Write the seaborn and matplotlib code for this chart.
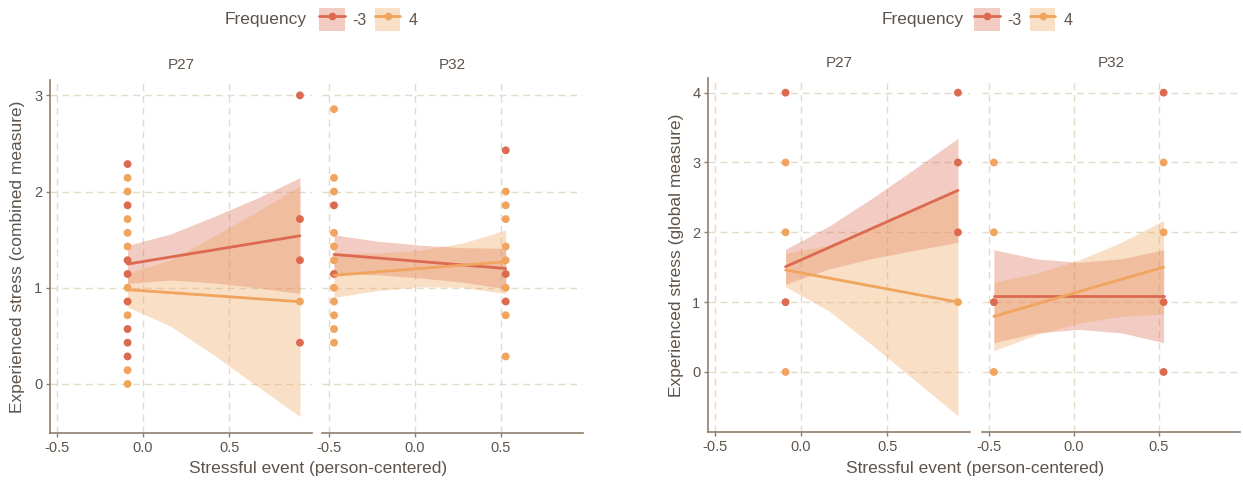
import pandas as pd
import matplotlib
matplotlib.use("Agg")
import matplotlib.pyplot as plt
import seaborn as sns
from matplotlib.lines import Line2D
from matplotlib.patches import Patch
from matplotlib.legend_handler import HandlerTuple

# x positions of the two measurement occasions (person-centered)
X_P27 = [-0.09, 0.91]
X_P32 = [-0.47, 0.53]

# grid on which model predictions / CI were read
GRID_P27 = [-0.09, 0.16, 0.41, 0.66, 0.91]
GRID_P32 = [-0.47, -0.22, 0.03, 0.28, 0.53]

FREQS = ["-3", "4"]

# ---- combined measure: raw points ----
comb_p27_neg3_a = [2.286, 1.857, 1.286, 1.143, 0.857, 0.571, 0.429, 0.286]
comb_p27_pos4_a = [2.143, 2.0, 1.714, 1.571, 1.429, 1.0, 0.714, 0.143, 0.0]
comb_p27_neg3_b = [3.0, 1.714, 1.286, 0.429]
comb_p27_pos4_b = [0.857]

comb_p32_neg3_a = [1.857, 1.143]
comb_p32_pos4_a = [2.857, 2.143, 2.0, 1.571, 1.429, 1.286, 1.0, 0.857, 0.714, 0.571, 0.429]
comb_p32_neg3_b = [2.429, 1.143, 0.857]
comb_p32_pos4_b = [2.0, 1.857, 1.714, 1.429, 1.286, 1.0, 0.714, 0.286]

# ---- combined measure: predictions ----
comb_p27_neg3_fit = [1.246, 1.32, 1.393, 1.467, 1.54]
comb_p27_neg3_lo = [1.045, 1.08, 1.05, 1.00, 0.94]
comb_p27_neg3_hi = [1.44, 1.56, 1.74, 1.93, 2.145]
comb_p27_pos4_fit = [0.98, 0.949, 0.918, 0.886, 0.855]
comb_p27_pos4_lo = [0.80, 0.60, 0.30, -0.02, -0.34]
comb_p27_pos4_hi = [1.15, 1.29, 1.535, 1.79, 2.055]

comb_p32_neg3_fit = [1.346, 1.31, 1.273, 1.237, 1.20]
comb_p32_neg3_lo = [1.146, 1.135, 1.103, 1.057, 0.99]
comb_p32_neg3_hi = [1.55, 1.485, 1.443, 1.417, 1.41]
comb_p32_pos4_fit = [1.13, 1.165, 1.20, 1.235, 1.27]
comb_p32_pos4_lo = [0.90, 0.97, 1.01, 1.005, 0.94]
comb_p32_pos4_hi = [1.36, 1.36, 1.39, 1.465, 1.60]

# ---- global measure: raw points ----
glob_p27_neg3_a = [4, 1]
glob_p27_pos4_a = [3, 2, 0]
glob_p27_neg3_b = [4, 3, 2]
glob_p27_pos4_b = [1]

glob_p32_neg3_a = [1]
glob_p32_pos4_a = [3, 2, 0]
glob_p32_neg3_b = [4, 1, 0]
glob_p32_pos4_b = [3, 2]

# ---- global measure: predictions ----
glob_p27_neg3_fit = [1.507, 1.78, 2.054, 2.327, 2.60]
glob_p27_neg3_lo = [1.257, 1.475, 1.623, 1.744, 1.855]
glob_p27_neg3_hi = [1.757, 2.085, 2.485, 2.91, 3.345]
glob_p27_pos4_fit = [1.46, 1.345, 1.23, 1.115, 1.0]
glob_p27_pos4_lo = [1.22, 0.876, 0.389, -0.118, -0.63]
glob_p27_pos4_hi = [1.70, 1.814, 2.071, 2.348, 2.63]

glob_p32_neg3_fit = [1.09, 1.09, 1.09, 1.09, 1.09]
glob_p32_neg3_lo = [0.42, 0.56, 0.61, 0.56, 0.42]
glob_p32_neg3_hi = [1.75, 1.62, 1.57, 1.62, 1.75]
glob_p32_pos4_fit = [0.795, 0.972, 1.149, 1.326, 1.50]
glob_p32_pos4_lo = [0.305, 0.532, 0.70, 0.796, 0.83]
glob_p32_pos4_hi = [1.285, 1.412, 1.60, 1.856, 2.17]

X_TICKS = [-0.5, 0.0, 0.5]
Y_TICKS_COMB = [0, 1, 2, 3]
Y_TICKS_GLOB = [0, 1, 2, 3, 4]

sns.set_theme(style="white")
plt.rcParams['font.family'] = ['Liberation Sans', 'DejaVu Sans']

TEXT = "#5E544B"
AXIS = "#8E7D6C"
GRID = "#E4DBC9"
PALETTE = {"-3": "#DB6A51", "4": "#F0A45E"}
BAND_ALPHA = 0.35

W, H = 1243, 483
fig = plt.figure(figsize=(W / 100, H / 100), dpi=100)


def px_axes(x0, x1, y0, y1):
    return fig.add_axes([x0 / W, 1 - y1 / H, (x1 - x0) / W, (y1 - y0) / H])


def points_df(xs, neg_a, pos_a, neg_b, pos_b):
    rows = []
    for v in neg_a:
        rows.append((xs[0], v, "-3"))
    for v in pos_a:
        rows.append((xs[0], v, "4"))
    for v in neg_b:
        rows.append((xs[1], v, "-3"))
    for v in pos_b:
        rows.append((xs[1], v, "4"))
    return pd.DataFrame(rows, columns=["x", "y", "freq"])


def fit_df(grid, neg, pos):
    parts = []
    for freq, (fit, lo, hi) in zip(FREQS, [neg, pos]):
        parts.append(pd.DataFrame({"x": grid, "fit": fit, "lo": lo, "hi": hi, "freq": freq}))
    return pd.concat(parts, ignore_index=True)


def draw_panel(ax, title, pts, fits, ylim, yticks, first):
    for freq in FREQS:
        d = fits[fits.freq == freq]
        ax.fill_between(d.x, d.lo, d.hi, color=PALETTE[freq], alpha=BAND_ALPHA, lw=0, zorder=2)
    sns.scatterplot(data=pts, x="x", y="y", hue="freq", palette=PALETTE, s=32,
                    edgecolor="none", legend=False, ax=ax, zorder=3)
    sns.lineplot(data=fits, x="x", y="fit", hue="freq", palette=PALETTE, lw=2,
                 legend=False, ax=ax, zorder=4)
    ax.set_xlim(-0.54, 0.98)
    ax.set_ylim(*ylim)
    ax.set_xticks(X_TICKS)
    ax.set_xticklabels(["-0.5", "0.0", "0.5"])
    ax.set_yticks(yticks)
    ax.set_xlabel("")
    ax.set_ylabel("")
    ax.grid(True, ls=(0, (5, 3.5)), color=GRID, lw=1)
    ax.set_axisbelow(True)
    ax.set_title(title, fontsize=11, color=TEXT, pad=8)
    for s in ["top", "right"]:
        ax.spines[s].set_visible(False)
    for s in ["left", "bottom"]:
        ax.spines[s].set_color(AXIS)
        ax.spines[s].set_linewidth(1.2)
    ax.tick_params(colors=AXIS, labelcolor=TEXT, length=3, width=1, labelsize=10.5,
                   bottom=True, left=True, pad=2.5)
    if not first:
        ax.spines["left"].set_visible(False)
        ax.tick_params(left=False, labelleft=False)


def draw_legend(title_x, key_x):
    fig.text(title_x / W, 1 - 19.5 / H, "Frequency", fontsize=12.5, color=TEXT,
             ha="left", va="center")
    handles = [(Patch(facecolor=PALETTE[f], alpha=BAND_ALPHA, lw=0),
                Line2D([], [], color=PALETTE[f], lw=2, marker="o", ms=4.5))
               for f in FREQS]
    fig.legend(handles, FREQS, handler_map={tuple: HandlerTuple(ndivide=1)},
               ncol=2, loc="center left", bbox_to_anchor=(key_x / W, 1 - 19.5 / H),
               frameon=False, fontsize=11.5, labelcolor=TEXT, handlelength=1.6,
               handleheight=1.9, handletextpad=0.5, columnspacing=0.5,
               borderpad=0, borderaxespad=0)


# ---------- left chart: combined measure ----------
ax1 = px_axes(50, 312, 80, 433)
ax2 = px_axes(322, 583, 80, 433)
draw_panel(ax1, "P27",
           points_df(X_P27, comb_p27_neg3_a, comb_p27_pos4_a, comb_p27_neg3_b, comb_p27_pos4_b),
           fit_df(GRID_P27, (comb_p27_neg3_fit, comb_p27_neg3_lo, comb_p27_neg3_hi),
                  (comb_p27_pos4_fit, comb_p27_pos4_lo, comb_p27_pos4_hi)),
           (-0.51, 3.16), Y_TICKS_COMB, True)
draw_panel(ax2, "P32",
           points_df(X_P32, comb_p32_neg3_a, comb_p32_pos4_a, comb_p32_neg3_b, comb_p32_pos4_b),
           fit_df(GRID_P32, (comb_p32_neg3_fit, comb_p32_neg3_lo, comb_p32_neg3_hi),
                  (comb_p32_pos4_fit, comb_p32_pos4_lo, comb_p32_pos4_hi)),
           (-0.51, 3.16), Y_TICKS_COMB, False)

# ---------- right chart: global measure ----------
ax3 = px_axes(708, 970, 78, 432)
ax4 = px_axes(982, 1240, 78, 432)
draw_panel(ax3, "P27",
           points_df(X_P27, glob_p27_neg3_a, glob_p27_pos4_a, glob_p27_neg3_b, glob_p27_pos4_b),
           fit_df(GRID_P27, (glob_p27_neg3_fit, glob_p27_neg3_lo, glob_p27_neg3_hi),
                  (glob_p27_pos4_fit, glob_p27_pos4_lo, glob_p27_pos4_hi)),
           (-0.86, 4.21), Y_TICKS_GLOB, True)
draw_panel(ax4, "P32",
           points_df(X_P32, glob_p32_neg3_a, glob_p32_pos4_a, glob_p32_neg3_b, glob_p32_pos4_b),
           fit_df(GRID_P32, (glob_p32_neg3_fit, glob_p32_neg3_lo, glob_p32_neg3_hi),
                  (glob_p32_pos4_fit, glob_p32_pos4_lo, glob_p32_pos4_hi)),
           (-0.86, 4.21), Y_TICKS_GLOB, False)

# axis titles
fig.text(18 / W, 1 - 257 / H, "Experienced stress (combined measure)", rotation=90,
         ha="center", va="center", fontsize=12.5, color=TEXT)
fig.text(676 / W, 1 - 255 / H, "Experienced stress (global measure)", rotation=90,
         ha="center", va="center", fontsize=12.5, color=TEXT)
fig.text(318 / W, 1 - 468 / H, "Stressful event (person-centered)",
         ha="center", va="center", fontsize=12.5, color=TEXT)
fig.text(975 / W, 1 - 468 / H, "Stressful event (person-centered)",
         ha="center", va="center", fontsize=12.5, color=TEXT)

draw_legend(225, 319)
draw_legend(882, 974)

fig.savefig("out.png", dpi=100)
